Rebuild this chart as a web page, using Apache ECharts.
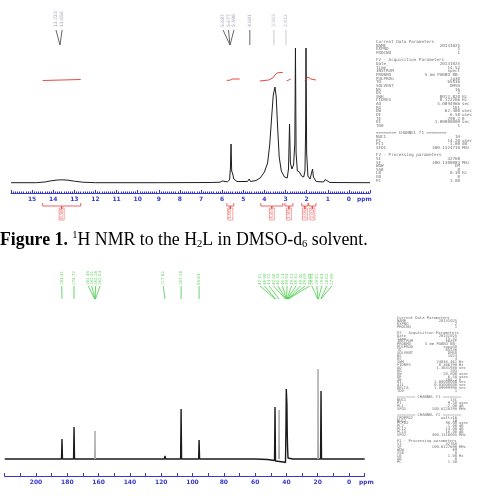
<!DOCTYPE html>
<html>
<head>
<meta charset="utf-8">
<script src="https://cdn.jsdelivr.net/npm/echarts@6/dist/echarts.min.js"></script>
<style>
  html, body { margin: 0; padding: 0; background: #fff; }
  #nmr { width: 481px; height: 497px; }
</style>
</head>
<body>
<div id="nmr"></div>
<script>
// ---- 1H spectrum: [ppm, height]
const hSpectrum = [
  [16.0, 10.3], [14.8, 10.3], [14.4, 11], [14.1, 12.2], [13.8, 13], [13.6, 13.2], [13.3, 12.8],
  [13.0, 11.8], [12.6, 10.8], [12.0, 10.3], [9.0, 10.3], [6.5, 10.5], [6.1, 10.8], [6.0, 12],
  [5.95, 11.2], [5.75, 11.2], [5.65, 13], [5.61, 25], [5.58, 49], [5.55, 22], [5.5, 19], [5.45, 14],
  [5.3, 11.5], [4.8, 11.5], [4.72, 14], [4.66, 11.5], [4.4, 12.5], [4.2, 15], [4.0, 21], [3.85, 30],
  [3.75, 48], [3.65, 78], [3.58, 98], [3.5, 106], [3.44, 96], [3.38, 68], [3.3, 36], [3.2, 22],
  [3.05, 16], [2.92, 15], [2.86, 24], [2.81, 69], [2.77, 30], [2.7, 24], [2.62, 28], [2.56, 50],
  [2.53, 145], [2.5, 40], [2.44, 22], [2.38, 24], [2.34, 21], [2.3, 23], [2.24, 17], [2.14, 16],
  [2.08, 22], [2.05, 60], [2.03, 145], [2.0, 40], [1.94, 17], [1.84, 14], [1.76, 16], [1.72, 24],
  [1.68, 16], [1.55, 11.5], [1.2, 11], [1.12, 13.5], [1.05, 12], [0.9, 10.5], [-1, 10.3]
];

// integral curves drawn over the 1H spectrum
const hIntegrals = [
  [[14.5, 112.5], [13.6, 113], [12.7, 113.5]],
  [[5.78, 112.5], [5.6, 113], [5.5, 114], [5.17, 114]],
  [[4.22, 112], [3.8, 113], [3.6, 115], [3.5, 118], [3.4, 120], [3.3, 120.5], [3.13, 120.5]],
  [[2.95, 112], [2.75, 114]],
  [[2.08, 112.5], [1.94, 116], [1.8, 114], [1.56, 113]]
];

// integral brackets under the ppm axis
const hIntRanges = [[14.5, 12.7], [5.78, 5.45], [4.17, 3.13], [3.03, 2.65], [2.23, 1.94], [1.9, 1.56]];
const hIntValues = ['0.98', '1.00', '4.87', '1.95', '3.06', '3.02'];

// peak picking labels (1H)
const hPickText = ['13.723', '13.656', '5.687', '5.677', '5.598', '4.681'];
const hPickAt = [13.87, 13.58, 5.96, 5.70, 5.44, 4.69];
const hPickPeak = [13.68, 13.68, 5.63, 5.63, 5.63, 4.69];
const hPickFaintText = ['3.503', '2.812'];
const hPickFaintAt = [3.55, 2.98];

// ---- 13C spectrum: [ppm, height]
const cSpectrum = [
  [220, 17], [183.7, 17], [183.4, 37], [183.1, 17], [176, 17], [175.7, 49], [175.4, 17],
  [118, 17], [117.6, 20], [117.2, 17], [107.6, 17], [107.3, 67], [107.0, 17],
  [96.1, 17], [95.8, 36], [95.5, 17], [60, 17], [52, 16.5], [47.6, 15.5], [47.3, 69], [47.0, 15],
  [42, 14], [40.6, 13.5], [40.3, 50], [40.1, 87], [39.9, 86], [39.7, 72], [39.5, 45], [39.3, 30],
  [39.0, 18], [38, 18], [36, 17], [18.2, 17], [17.9, 85], [17.6, 17], [-10, 17]
];
// fainter sticks
const cFaintPeaks = [162.3, 44.7, 19.8];
const cFaintHeights = [45, 66, 107];

// peak picking labels (13C)
const cPickText = [
  '183.41', '175.72', '162.45', '162.31', '162.18', '162.04', '117.62', '107.28', '95.83',
  '47.31', '46.98', '44.72', '40.56', '40.35', '40.14', '39.93', '39.72', '39.51', '39.30', '39.09', '38.88',
  '19.93', '19.81', '19.64', '18.02', '17.89'
];
const cPickAt = [
  183.6, 175.7, 166.6, 164.4, 161.9, 159.1, 118.7, 107.3, 95.8,
  56.9, 54.0, 51.1, 48.2, 45.4, 42.5, 39.6, 36.7, 33.9, 31.0, 28.1, 25.2,
  23.8, 20.6, 17.4, 14.2, 11.1
];
const cPickPeak = [
  183.41, 175.72, 162.45, 162.31, 162.18, 162.04, 117.62, 107.28, 95.83,
  47.31, 46.98, 44.72, 40.56, 40.35, 40.14, 39.93, 39.72, 39.51, 39.30, 39.09, 38.88,
  19.93, 19.81, 19.64, 18.02, 17.89
];

// ---- acquisition parameter blocks
const hParams = [
  ['Current Data Parameters'], ['NAME', '20131025'], ['EXPNO', '1'], ['PROCNO', '1'], [''],
  ['F2 - Acquisition Parameters'], ['Date_', '20131025'], ['Time', '14.52'], ['INSTRUM', 'spect'],
  ['PROBHD', '5 mm PABBO BB-'], ['PULPROG', 'zg30'], ['TD', '65536'], ['SOLVENT', 'DMSO'],
  ['NS', '16'], ['DS', '2'], ['SWH', '8012.820', 'Hz'], ['FIDRES', '0.122266', 'Hz'],
  ['AQ', '4.0894966', 'sec'], ['RG', '161'], ['DW', '62.400', 'usec'], ['DE', '6.50', 'usec'],
  ['TE', '298.2', 'K'], ['D1', '1.00000000', 'sec'], ['TD0', '1'], [''],
  ['======== CHANNEL f1 ========'], ['NUC1', '1H'], ['P1', '14.20', 'usec'], ['PL1', '-1.00', 'dB'],
  ['SFO1', '400.1324710', 'MHz'], [''],
  ['F2 - Processing parameters'], ['SI', '32768'], ['SF', '400.1300083', 'MHz'], ['WDW', 'EM'],
  ['SSB', '0'], ['LB', '0.30', 'Hz'], ['GB', '0'], ['PC', '1.00']
];
const cParams = [
  ['Current Data Parameters'], ['NAME', '20131025'], ['EXPNO', '2'], ['PROCNO', '1'], [''],
  ['F2 - Acquisition Parameters'], ['Date_', '20131025'], ['Time', '15.31'], ['INSTRUM', 'spect'],
  ['PROBHD', '5 mm PABBO BB-'], ['PULPROG', 'zgpg30'], ['TD', '65536'], ['SOLVENT', 'DMSO'],
  ['NS', '1024'], ['DS', '4'], ['SWH', '24038.461', 'Hz'], ['FIDRES', '0.366798', 'Hz'],
  ['AQ', '1.3631988', 'sec'], ['RG', '203'], ['DW', '20.800', 'usec'], ['DE', '6.50', 'usec'],
  ['TE', '298.2', 'K'], ['D1', '2.00000000', 'sec'], ['d11', '0.03000000', 'sec'],
  ['DELTA', '1.89999998', 'sec'], ['TD0', '1'], [''],
  ['======== CHANNEL f1 ========'], ['NUC1', '13C'], ['P1', '9.50', 'usec'], ['PL1', '-2.00', 'dB'],
  ['SFO1', '100.6228298', 'MHz'], [''],
  ['======== CHANNEL f2 ========'], ['CPDPRG2', 'waltz16'], ['NUC2', '1H'], ['PCPD2', '90.00', 'usec'],
  ['PL2', '-1.00', 'dB'], ['PL12', '14.00', 'dB'], ['PL13', '18.00', 'dB'], ['SFO2', '400.1316005', 'MHz'], [''],
  ['F2 - Processing parameters'], ['SI', '32768'], ['SF', '100.6127690', 'MHz'], ['WDW', 'EM'],
  ['SSB', '0'], ['LB', '1.00', 'Hz'], ['GB', '0'], ['PC', '1.40']
];

const blue = '#3636d0';
const chart = echarts.init(document.getElementById('nmr'), null, { renderer: 'canvas' });

// grids: 0 = 1H spectrum, 1 = 1H picks, 2 = 1H integral brackets, 3 = 13C spectrum, 4 = 13C picks
const hGrid = { left: 11, right: 111 };
const cGrid = { left: 4.7, right: 116.3 };
const grids = [
  Object.assign({ top: 48, height: 145 }, hGrid),
  Object.assign({ top: 0, height: 48 }, hGrid),
  Object.assign({ top: 200, height: 25 }, hGrid),
  Object.assign({ top: 360, height: 116 }, cGrid),
  Object.assign({ top: 268, height: 34 }, cGrid)
];

function hiddenX(i, min, max) {
  return { type: 'value', gridIndex: i, inverse: true, min: min, max: max, show: false };
}
function hiddenY(i, max) {
  return { type: 'value', gridIndex: i, min: 0, max: max, show: false };
}

const xAxes = [
  {
    type: 'value', gridIndex: 0, inverse: true, min: -1, max: 16, interval: 1,
    axisLine: { onZero: false, lineStyle: { color: blue, width: 1 } },
    axisTick: { inside: true, length: 3, lineStyle: { color: blue } },
    minorTick: { show: true, splitNumber: 10, length: 1.5, lineStyle: { color: blue } },
    splitLine: { show: false },
    axisLabel: {
      margin: 3, fontSize: 6, fontWeight: 'bold', color: blue, fontFamily: 'DejaVu Sans',
      formatter: v => (v >= 0 && v <= 15 ? String(v) : '')
    }
  },
  hiddenX(1, -1, 16),
  hiddenX(2, -1, 16),
  {
    type: 'value', gridIndex: 3, inverse: true, min: -10, max: 220, interval: 10,
    axisLine: { onZero: false, lineStyle: { color: blue, width: 1 } },
    axisTick: { inside: true, length: 3, lineStyle: { color: blue } },
    splitLine: { show: false },
    axisLabel: {
      margin: 3, fontSize: 6, fontWeight: 'bold', color: blue, fontFamily: 'DejaVu Sans',
      formatter: v => (v >= 0 && v <= 200 && v % 20 === 0 ? String(v) : '')
    }
  },
  hiddenX(4, -10, 220)
];
const yAxes = [hiddenY(0, 145), hiddenY(1, 48), hiddenY(2, 25), hiddenY(3, 116), hiddenY(4, 34)];

function lineSeries(xi, data, color, width) {
  return {
    type: 'line', xAxisIndex: xi, yAxisIndex: xi, data: data, showSymbol: false, silent: true,
    animation: false, lineStyle: { color: color, width: width || 1 }
  };
}
function textSeries(xi, points, texts, color, size, extra) {
  return {
    type: 'scatter', xAxisIndex: xi, yAxisIndex: xi, symbolSize: 1, silent: true, animation: false,
    itemStyle: { color: 'rgba(0,0,0,0)' },
    data: points.map((p, i) => ({ value: p, name: texts[i] })),
    label: Object.assign({
      show: true, formatter: '{b}', position: 'inside', rotate: 90, align: 'left',
      verticalAlign: 'middle', fontSize: size, color: color, fontFamily: 'DejaVu Sans'
    }, extra || {})
  };
}

const series = [];
// spectra
series.push(lineSeries(0, hSpectrum, '#1e1e1e', 1));
hIntegrals.forEach(seg => series.push(lineSeries(0, seg, '#e8322e', 0.9)));
series.push(lineSeries(3, cSpectrum, '#1a1a1a', 1.4));
cFaintPeaks.forEach((p, i) => {
  series.push(lineSeries(3, [[p + 0.3, 17], [p, cFaintHeights[i]], [p - 0.3, 17]], '#a8a8a8', 1));
});

// 1H peak picks
hPickAt.forEach((p, i) => {
  series.push(lineSeries(1, [[p, 18], [hPickPeak[i], 3]], '#555', 0.9));
});
hPickFaintAt.forEach(p => series.push(lineSeries(1, [[p, 18], [p, 3]], '#c4c4c4', 0.9)));
series.push(textSeries(1, hPickAt.map(p => [p, 21]), hPickText, '#8a8aa6', 4.5));
series.push(textSeries(1, hPickFaintAt.map(p => [p, 21]), hPickFaintText, '#a8a8b8', 4.5));

// 1H integral brackets
hIntRanges.forEach(r => {
  const mid = (r[0] + r[1]) / 2;
  series.push(lineSeries(2, [[r[0], 22], [r[0], 19], [mid, 19], [mid, 16], [mid, 19], [r[1], 19], [r[1], 22]], '#e8403c', 0.8));
});
series.push(textSeries(2, hIntRanges.map(r => [(r[0] + r[1]) / 2, 11]), hIntValues, '#e8403c', 4.5,
  { align: 'center', borderColor: '#e8403c', borderWidth: 0.6, padding: [0, 1] }));

// 13C peak picks
cPickAt.forEach((p, i) => {
  series.push(lineSeries(4, [[p, 16], [cPickPeak[i], 3]], '#44cc44', 0.8));
});
series.push(textSeries(4, cPickAt.map(p => [p, 17]), cPickText, '#44cc44', 4));

// parameter blocks as text
function paramBlock(rows, x0, y0, step, valRight, unitLeft, size) {
  const els = [];
  const font = { fontFamily: 'DejaVu Sans Mono', fontSize: size, fill: '#707070', verticalAlign: 'middle', textVerticalAlign: 'middle' };
  rows.forEach((row, i) => {
    const y = y0 + i * step;
    if (!row[0]) return;
    els.push({ type: 'text', x: x0, y: y, silent: true, style: Object.assign({ text: row[0], align: 'left', textAlign: 'left' }, font) });
    if (row[1]) els.push({ type: 'text', x: valRight, y: y, silent: true, style: Object.assign({ text: row[1], align: 'right', textAlign: 'right' }, font) });
    if (row[2]) els.push({ type: 'text', x: unitLeft, y: y, silent: true, style: Object.assign({ text: row[2], align: 'left', textAlign: 'left' }, font) });
  });
  return els;
}

const capFont = 'Liberation Serif';
const graphics = [
  {
    type: 'text', left: 0, top: 230, silent: true,
    style: {
      text: '{b|Figure 1.}{n| }{s|1}{n|H NMR to the H}{d|2}{n|L in DMSO-d}{d|6}{n| solvent.}',
      fill: '#000',
      rich: {
        b: { fontFamily: capFont, fontSize: 17.8, fontWeight: 'bold', lineHeight: 20 },
        n: { fontFamily: capFont, fontSize: 17.8, lineHeight: 20 },
        s: { fontFamily: capFont, fontSize: 10.5, lineHeight: 12, verticalAlign: 'top' },
        d: { fontFamily: capFont, fontSize: 10.5, lineHeight: 12, verticalAlign: 'bottom' }
      }
    }
  },
  { type: 'text', x: 357, y: 199, silent: true, style: { text: 'ppm', fontSize: 6, fontWeight: 'bold', fill: blue, fontFamily: 'DejaVu Sans', verticalAlign: 'middle', textVerticalAlign: 'middle' } },
  { type: 'text', x: 359, y: 482, silent: true, style: { text: 'ppm', fontSize: 6, fontWeight: 'bold', fill: blue, fontFamily: 'DejaVu Sans', verticalAlign: 'middle', textVerticalAlign: 'middle' } }
].concat(paramBlock(hParams, 376, 42, 3.65, 460, 462, 4.2))
 .concat(paramBlock(cParams, 397, 318, 2.93, 457, 459, 3.8));

chart.setOption({
  animation: false,
  backgroundColor: '#fff',
  grid: grids,
  xAxis: xAxes,
  yAxis: yAxes,
  series: series,
  graphic: graphics
});
</script>
</body>
</html>
